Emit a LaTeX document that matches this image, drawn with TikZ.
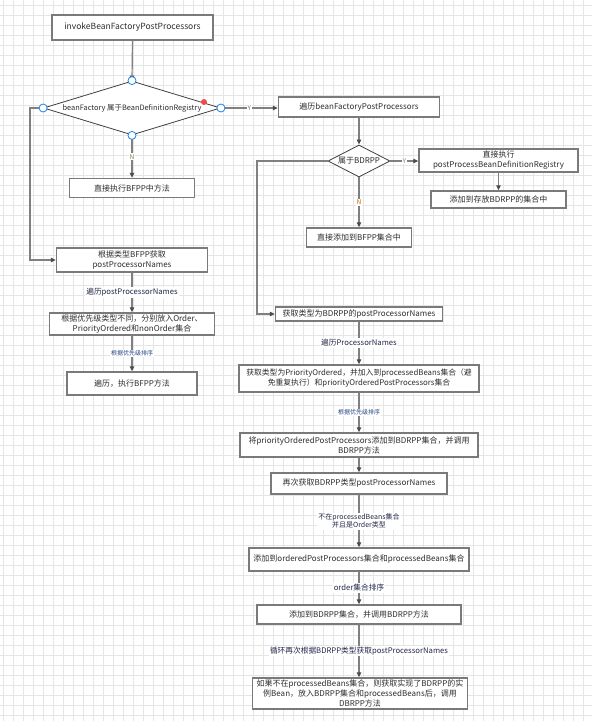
\documentclass[tikz,border=0pt]{standalone}
\usepackage{fontspec}
\setmainfont{Noto Sans CJK SC}
\usetikzlibrary{arrows.meta,shapes.geometric,calc}
\definecolor{boxline}{HTML}{7A7A7A}
\definecolor{conncol}{HTML}{808080}
\definecolor{txt}{HTML}{2E2E2E}
\definecolor{lbl}{HTML}{24284A}
\definecolor{lblblue}{HTML}{2A4A8A}
\definecolor{gridc}{HTML}{E5E5E5}
\definecolor{handle}{HTML}{2F8BEA}
\definecolor{reddot}{HTML}{F04B4B}
\definecolor{yncol}{HTML}{8A7A5A}
\begin{document}
\begin{tikzpicture}[x=1pt,y=-1pt,
  box/.style={draw=boxline,line width=1.3pt,fill=white,rectangle,inner sep=1pt,align=center,
    font=\fontsize{8}{10}\selectfont,text=txt},
  dia/.style={draw=black!75,line width=0.8pt,fill=white,diamond,inner sep=0pt},
  conn/.style={draw=conncol,line width=1.2pt,-{Triangle[length=5pt,width=4.5pt,color=black!70]}},
  lab/.style={fill=white,inner sep=1pt,text=lbl,font=\fontsize{7.7}{9}\selectfont,align=center},
  slab/.style={fill=white,inner sep=1pt,text=lblblue,font=\fontsize{6}{7}\selectfont,align=center},
  yn/.style={fill=white,inner sep=1pt,text=yncol,font=\fontsize{6.5}{7}\selectfont},
  hdl/.style={draw=handle,line width=0.9pt,fill=white,circle,inner sep=0pt,minimum size=8pt}
]
% background and grid
\fill[white] (0,0) rectangle (592,721);
\useasboundingbox (0,0) rectangle (592,721);
\foreach \x in {3,13,...,593} \draw[gridc,line width=0.6pt] (\x,0) -- (\x,721);
\foreach \y in {5,15,...,725} \draw[gridc,line width=0.6pt] (0,\y) -- (592,\y);

% left column
\node[box,minimum width=161pt,minimum height=25pt,font=\fontsize{8.5}{10}\selectfont] (A) at (132.5,27.5) {invokeBeanFactoryPostProcessors};
\node[dia,minimum width=177pt,minimum height=54pt] (d1) at (132,108) {};
\node[inner sep=0pt,text=txt,font=\fontsize{7.4}{9}\selectfont] (d1t) at (132,108) {beanFactory 属于BeanDefinitionRegistry};
\node[box,minimum width=125pt,minimum height=19pt] (C) at (132,188) {直接执行BFPP中方法};
\node[box,minimum width=151pt,minimum height=24pt] (D) at (132,260) {根据类型BFPP获取\\postProcessorNames};
\node[box,minimum width=165pt,minimum height=22pt] (E) at (132,324) {根据优先级类型不同，分别放入Order、\\PriorityOrdered和nonOrder集合};
\node[box,minimum width=130pt,minimum height=23pt] (F) at (132,383.5) {遍历，执行BFPP方法};

% right column
\node[box,minimum width=161pt,minimum height=20pt] (B) at (359,107) {遍历beanFactoryPostProcessors};
\node[dia,minimum width=62pt,minimum height=32pt] (d2) at (359,161) {};
\node[inner sep=0pt,text=txt,font=\fontsize{8}{9}\selectfont] (d2t) at (359,161) {属于BDRPP};
\node[box,minimum width=159pt,minimum height=23pt] (G) at (498.5,160.5) {直接执行\\postProcessBeanDefinitionRegistry};
\node[box,minimum width=135pt,minimum height=17pt] (H) at (498.5,199.5) {添加到存放BDRPP的集合中};
\node[box,minimum width=105pt,minimum height=19pt] (I) at (359,237.5) {直接添加到BFPP集合中};
\node[box,minimum width=167pt,minimum height=14pt] (J) at (359,314) {获取类型为BDRPP的postProcessorNames};
\node[box,minimum width=240pt,minimum height=27pt,font=\fontsize{7.8}{10}\selectfont] (K) at (359,378.5) {获取类型为PriorityOrdered，并加入到processedBeans集合（避\\免重复执行）和priorityOrderedPostProcessors集合};
\node[box,minimum width=238pt,minimum height=24pt] (L) at (359,445) {将priorityOrderedPostProcessors添加到BDRPP集合，并调用\\BDRPP方法};
\node[box,minimum width=176pt,minimum height=21pt] (M) at (359,483.5) {再次获取BDRPP类型postProcessorNames};
\node[box,minimum width=220pt,minimum height=23pt] (N) at (359,559.5) {添加到orderedPostProcessors集合和processedBeans集合};
\node[box,minimum width=204pt,minimum height=19pt] (O) at (359,614.5) {添加到BDRPP集合，并调用BDRPP方法};
\node[box,minimum width=215pt,minimum height=31pt] (P) at (360,693.5) {如果不在processedBeans集合，则获取实现了BDRPP的实\\例Bean，放入BDRPP集合和processedBeans后，调用\\DBRPP方法};

% corner coordinates for elbow connectors
\coordinate (c1) at (30,108);
\coordinate (c2) at (30,260);
\coordinate (c3) at (257,161);
\coordinate (c4) at (257,314);

% connectors, left column
\draw[conn] (A.south) -- (d1.north);
\draw[conn] (d1.east) -- node[yn]{Y} (d1.east -| B.west);
\draw[conn] (d1.south) -- node[yn]{N} (C.north);
\draw[conn] (d1.west) -- (c1) -- (c2) -- (D.west);
\draw[conn] (D.south) -- node[lab]{遍历postProcessorNames} (E.north);
\draw[conn] (E.south) -- node[slab]{根据优先级排序} (F.north);

% connectors, right column
\draw[conn] (B.south) -- (d2.north);
\draw[conn] (d2.east) -- node[yn]{Y} (d2.east -| G.west);
\draw[conn] (G.south) -- (H.north);
\draw[conn] (d2.south) -- node[yn,text=orange!80!black]{N} (I.north);
\draw[conn] (d2.west) -- (c3) -- (c4) -- (J.west);
\draw[conn] (J.south) -- node[lab]{遍历ProcessorNames} (K.north);
\draw[conn] (K.south) -- node[slab]{根据优先级排序} (L.north);
\draw[conn] (L.south) -- (M.north);
\draw[conn] (M.south) -- node[lab,font=\fontsize{7}{8.5}\selectfont]{不在processedBeans集合\\并且是Order类型} (N.north);
\draw[conn] (N.south) -- node[lab]{order集合排序} (O.north);
\draw[conn] (O.south) -- node[lab]{循环再次根据BDRPP类型获取postProcessorNames} (O.south |- P.north);

% selection handles on the first decision
\node[hdl] (h1) at (d1.north) {};
\node[hdl] (h2) at (d1.west) {};
\node[hdl] (h3) at (d1.east) {};
\node[hdl] (h4) at (d1.south) {};
\node[circle,fill=reddot,inner sep=0pt,minimum size=6pt] (rd) at (204,102) {};
\end{tikzpicture}
\end{document}
